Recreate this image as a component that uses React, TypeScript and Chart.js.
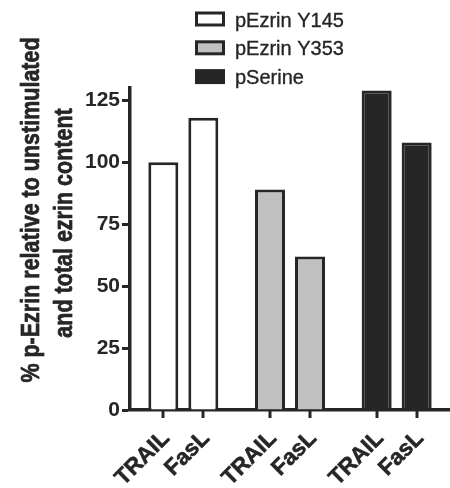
import { useEffect, useRef } from 'react';
import { Chart, registerables } from 'chart.js';

Chart.register(...registerables);

// Phospho-protein groups (x categories) and the two stimuli (one dataset each)
const groups = ['pEzrin Y145', 'pEzrin Y353', 'pSerine'];
const stimuli = ['TRAIL', 'FasL'];
const trailValues = [100, 89, 129];
const faslValues = [118, 62, 108];

// Value axis
const yMax = 130;
const yStep = 25;
const yTitleLines = ['% p-Ezrin relative to unstimulated', 'and total ezrin content'];

const INK = '#262626';
const groupFills = ['#ffffff', '#c0c0c0', '#262626'];
const FONT = '"Liberation Sans", Arial, Helvetica, sans-serif';

// Fill text and trace it with a hairline so it reads heavier
function heavyText(ctx: any, text: string, x: number, y: number, weight: number) {
  ctx.fillText(text, x, y);
  if (weight > 0) {
    ctx.lineWidth = weight;
    ctx.strokeStyle = ctx.fillStyle;
    ctx.lineJoin = 'round';
    ctx.strokeText(text, x, y);
  }
}

// Vertical legend of the three groups, drawn above the plot
const groupLegend = {
  id: 'groupLegend',
  afterDraw(chart: any) {
    const ctx = chart.ctx;
    ctx.save();
    groups.forEach((name, i) => {
      const base = 26.5 + i * 28.8;
      const bx = 195;
      const bw = 30;
      const bh = 15;
      ctx.fillStyle = INK;
      ctx.fillRect(bx, base - bh, bw, bh);
      ctx.fillStyle = groupFills[i];
      ctx.fillRect(bx + 3, base - bh + 3, bw - 6, bh - 6);
      ctx.fillStyle = INK;
      ctx.font = `20px ${FONT}`;
      ctx.textAlign = 'left';
      ctx.textBaseline = 'alphabetic';
      heavyText(ctx, name, 235, base, 0.35);
    });
    ctx.restore();
  },
};

// Tick mark and slanted stimulus label under every bar
const barLabels = {
  id: 'barLabels',
  afterDraw(chart: any) {
    const ctx = chart.ctx;
    const bottom = chart.chartArea.bottom;
    ctx.save();
    chart.data.datasets.forEach((ds: any, di: number) => {
      const meta = chart.getDatasetMeta(di);
      meta.data.forEach((bar: any) => {
        const x = Math.round(bar.x);
        ctx.strokeStyle = INK;
        ctx.lineWidth = 3;
        ctx.beginPath();
        ctx.moveTo(x, bottom);
        ctx.lineTo(x, bottom + 8);
        ctx.stroke();
        ctx.save();
        ctx.translate(x + 3, bottom + 25);
        ctx.rotate(-Math.PI / 4);
        ctx.font = `bold 22.5px ${FONT}`;
        ctx.textAlign = 'right';
        ctx.textBaseline = 'middle';
        ctx.fillStyle = INK;
        heavyText(ctx, ds.label, 0, 0, 0.6);
        ctx.restore();
      });
    });
    ctx.restore();
  },
};

// Two-line rotated title of the value axis
const yTitle = {
  id: 'yTitle',
  afterDraw(chart: any) {
    const ctx = chart.ctx;
    const spots = [
      { x: 39, y: 210 },
      { x: 72, y: 223 },
    ];
    ctx.save();
    ctx.font = `bold 21.5px ${FONT}`;
    ctx.fillStyle = INK;
    ctx.textAlign = 'center';
    ctx.textBaseline = 'alphabetic';
    yTitleLines.forEach((line, i) => {
      ctx.save();
      ctx.translate(spots[i].x, spots[i].y);
      ctx.rotate(-Math.PI / 2);
      ctx.scale(1, 1.2);
      heavyText(ctx, line, 0, 0, 0.6);
      ctx.restore();
    });
    ctx.restore();
  },
};

export default function App() {
  const canvasRef = useRef<HTMLCanvasElement | null>(null);

  useEffect(() => {
    if (!canvasRef.current) return;
    const chart = new Chart(canvasRef.current, {
      type: 'bar',
      data: {
        labels: groups,
        datasets: [
          {
            label: stimuli[0],
            data: trailValues,
            backgroundColor: groupFills,
            borderColor: INK,
            borderWidth: 3,
          },
          {
            label: stimuli[1],
            data: faslValues,
            backgroundColor: groupFills,
            borderColor: INK,
            borderWidth: 3,
          },
        ],
      },
      options: {
        responsive: false,
        animation: false,
        datasets: {
          bar: { categoryPercentage: 0.75, barPercentage: 0.75 },
        },
        layout: { padding: { top: 88, left: 0, right: 0, bottom: 0 } },
        plugins: {
          legend: { display: false },
          tooltip: { enabled: false },
        },
        scales: {
          x: {
            ticks: { display: false },
            grid: { drawOnChartArea: false, drawTicks: false },
            border: { display: true, color: INK, width: 3.5 },
            afterFit: (s: any) => {
              s.height = 78;
            },
          },
          y: {
            min: 0,
            max: yMax,
            ticks: {
              stepSize: yStep,
              includeBounds: false,
              color: INK,
              padding: 2,
              font: { family: FONT, size: 21, weight: 'bold' },
            },
            grid: {
              drawOnChartArea: false,
              drawTicks: true,
              tickLength: 8,
              tickWidth: 3,
              tickColor: INK,
            },
            border: { display: true, color: INK, width: 3.5 },
            afterFit: (s: any) => {
              s.width = 130;
            },
          },
        },
      },
      plugins: [groupLegend, barLabels, yTitle],
    });
    return () => chart.destroy();
  }, []);

  return (
    <div style={{ position: 'fixed', left: 0, top: 0, width: 450, height: 488, overflow: 'hidden', background: '#fff' }}>
      <canvas ref={canvasRef} width={450} height={488} style={{ display: 'block' }} />
    </div>
  );
}
